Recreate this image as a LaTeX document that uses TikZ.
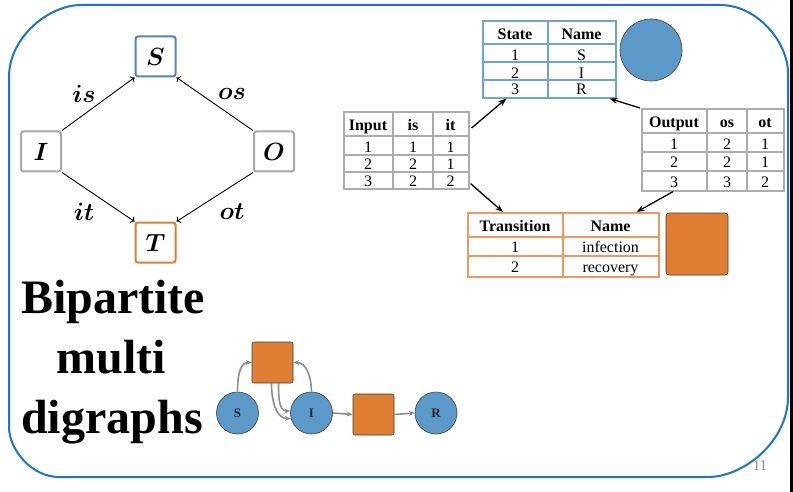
\documentclass[tikz,border=0pt]{standalone}
\usepackage{fontspec}
\setmainfont{Liberation Serif}
\usetikzlibrary{arrows.meta,calc}

\definecolor{frameblue}{RGB}{28,117,200}
\definecolor{sblue}{RGB}{78,134,194}
\definecolor{tgray}{RGB}{168,168,168}
\definecolor{torange}{RGB}{226,124,48}
\definecolor{cellblue}{RGB}{108,164,214}
\definecolor{cellgray}{RGB}{172,172,172}
\definecolor{cellorange}{RGB}{238,152,92}
\definecolor{fillblue}{RGB}{91,154,200}
\definecolor{fillorange}{RGB}{224,127,52}
\definecolor{edgegray}{RGB}{140,140,140}
\definecolor{outline}{RGB}{60,60,60}

\tikzset{
  lbox/.style={draw, line width=2pt, rounded corners=2.5pt, minimum size=40pt,
    inner sep=0pt, fill=white, font=\boldmath\fontsize{29}{29}\selectfont},
  lbl/.style={font=\boldmath\fontsize{24}{24}\selectfont},
  larrow/.style={->, line width=0.9pt},
  tbl/.style={draw, line width=1.6pt, inner sep=0pt, anchor=north west},
  grid/.style={line width=1.6pt},
  hd/.style={font=\bfseries\fontsize{16}{16}\selectfont, inner sep=0pt, anchor=base},
  cell/.style={font=\fontsize{16}{16}\selectfont, inner sep=0pt, anchor=base},
  tarrow/.style={-{Stealth[length=8pt,width=6pt]}, line width=1.3pt},
  cnode/.style={circle, fill=fillblue, draw=outline, line width=0.6pt,
    minimum size=42pt, inner sep=0pt, text=black!85,
    font=\bfseries\fontsize{13}{13}\selectfont},
  snode/.style={rectangle, rounded corners=2pt, fill=fillorange, draw=outline,
    line width=0.6pt, minimum size=41pt, inner sep=0pt},
  garrow/.style={-{Stealth[length=6pt,width=5pt]}, edgegray, line width=1.6pt},
  title/.style={font=\bfseries\fontsize{48}{48}\selectfont, anchor=base}
}

\begin{document}
\begin{tikzpicture}[x=1pt, y=-1pt]
\useasboundingbox (0,0) rectangle (793,492);
\fill[white] (0,0) rectangle (793,492);

% slide frame
\draw[frameblue, line width=2pt]
  (9,77) .. controls (9,37.3) and (48.7,5) .. (81,5)
  -- (720,5) .. controls (757.5,5) and (788,42.5) .. (788,73)
  -- (788,397) .. controls (788,441.2) and (743.8,477) .. (708,477)
  -- (59,477) .. controls (31.4,477) and (9,449.4) .. (9,427) -- cycle;
\draw[black, line width=2.5pt] (791.5,0) -- (791.5,492);

% schema: I, O -> S, T
\node[lbox, draw=sblue] (S) at (155.5,56.5) {$S$};
\node[lbox, draw=tgray] (I) at (41,151.5) {$I$};
\node[lbox, draw=tgray] (O) at (274,151.5) {$O$};
\node[lbox, draw=torange] (T) at (155.5,242.5) {$T$};
\draw[larrow] (I.north east) -- (S.south west);
\draw[larrow] (O.north west) -- (S.south east);
\draw[larrow] (I.south east) -- (T.north west);
\draw[larrow] (O.south west) -- (T.north east);
\node[lbl] (lis) at (84,94) {$is$};
\node[lbl] (los) at (232,94) {$os$};
\node[lbl] (lit) at (84,212) {$it$};
\node[lbl] (lot) at (232,212) {$ot$};

% State table
\node[tbl, draw=cellblue, minimum width=133pt, minimum height=77pt] (state) at (482,20) {};
\draw[grid, cellblue] (548,20) -- (548,97) (482,44) -- (615,44) (482,62) -- (615,62) (482,80) -- (615,80);
\node[hd] (st0) at (515,40) {State};
\node[hd] (sn0) at (581.5,40) {Name};
\node[cell] (st1) at (515,61) {1};
\node[cell] (sn1) at (581.5,61) {S};
\node[cell] (st2) at (515,78.5) {2};
\node[cell] (sn2) at (581.5,78.5) {I};
\node[cell] (st3) at (515,95) {3};
\node[cell] (sn3) at (581.5,95) {R};
\node[circle, fill=fillblue, draw=outline, line width=0.6pt, minimum size=62pt, inner sep=0pt] (scirc) at (651,50) {};

% Input table
\node[tbl, draw=cellgray, minimum width=125pt, minimum height=77pt] (input) at (343,111) {};
\draw[grid, cellgray] (393,111) -- (393,188) (433,111) -- (433,188)
  (343,136) -- (468,136) (343,155) -- (468,155) (343,172) -- (468,172);
\node[hd] (ia0) at (368,130.5) {Input};
\node[hd] (ib0) at (413,130.5) {is};
\node[hd] (ic0) at (450.5,130.5) {it};
\node[cell] (ia1) at (368,153) {1};
\node[cell] (ib1) at (413,153) {1};
\node[cell] (ic1) at (450.5,153) {1};
\node[cell] (ia2) at (368,170) {2};
\node[cell] (ib2) at (413,170) {2};
\node[cell] (ic2) at (450.5,170) {1};
\node[cell] (ia3) at (368,186) {3};
\node[cell] (ib3) at (413,186) {2};
\node[cell] (ic3) at (450.5,186) {2};

% Output table
\node[tbl, draw=cellgray, minimum width=142pt, minimum height=82pt] (output) at (641,108) {};
\draw[grid, cellgray] (707,108) -- (707,190) (747,108) -- (747,190)
  (641,133) -- (783,133) (641,152) -- (783,152) (641,171) -- (783,171);
\node[hd] (oa0) at (674,128) {Output};
\node[hd] (ob0) at (727,128) {os};
\node[hd] (oc0) at (765,128) {ot};
\node[cell] (oa1) at (674,149.5) {1};
\node[cell] (ob1) at (727,149.5) {2};
\node[cell] (oc1) at (765,149.5) {1};
\node[cell] (oa2) at (674,167.5) {2};
\node[cell] (ob2) at (727,167.5) {2};
\node[cell] (oc2) at (765,167.5) {1};
\node[cell] (oa3) at (674,187) {3};
\node[cell] (ob3) at (727,187) {3};
\node[cell] (oc3) at (765,187) {2};

% Transition table
\node[tbl, draw=cellorange, minimum width=191pt, minimum height=64pt] (trans) at (467,212) {};
\draw[grid, cellorange] (563,212) -- (563,276) (467,237) -- (658,237) (467,256) -- (658,256);
\node[hd] (ta0) at (515,232) {Transition};
\node[hd] (tb0) at (610.5,232) {Name};
\node[cell] (ta1) at (515,252.5) {1};
\node[cell] (tb1) at (610.5,252.5) {infection};
\node[cell] (ta2) at (515,272) {2};
\node[cell] (tb2) at (610.5,272) {recovery};
\node[rectangle, rounded corners=3pt, fill=fillorange, draw=outline, line width=0.6pt,
  minimum size=62pt, inner sep=0pt] (tsq) at (697,244) {};

% table links
\draw[tarrow] ([shift={(2pt,-17pt)}]input.north east) -- ([xshift=-43pt]state.south);
\draw[tarrow] ([xshift=-1pt]output.north west) -- ([xshift=-7pt]state.south east);
\draw[tarrow] ([shift={(1pt,6pt)}]input.south east) -- ([xshift=36pt]trans.north west);
\draw[tarrow] ([xshift=32pt]output.south west) -- ([xshift=-23pt]trans.north east);

% title
\node[title] (t1) at (113,313) {Bipartite};
\node[title] (t2) at (111,373) {multi};
\node[title] (t3) at (112,433) {digraphs};

% SIR bipartite graph
\node[cnode] (bS) at (237.5,413) {S};
\node[cnode] (bI) at (311.5,413) {I};
\node[cnode] (bR) at (436,413) {R};
\node[snode] (bT1) at (272.5,362.5) {};
\node[snode] (bT2) at (373.5,414.5) {};
\draw[garrow] (bS.north) to[out=90, in=180] (bT1.west);
\draw[garrow] (bI.north) to[out=90, in=0] (bT1.east);
\draw[garrow] ([xshift=-1pt]bT1.south) to[out=270, in=180] (bI.195);
\draw[garrow] ([xshift=6pt]bT1.south) to[out=270, in=180] (bI.175);
\draw[garrow] (bI.east) -- (bT2.west);
\draw[garrow] (bT2.east) -- (bR.west);

% page number
\node[text=black!45, font=\fontsize{15}{15}\selectfont] (pg) at (760,466) {11};
\end{tikzpicture}
\end{document}
